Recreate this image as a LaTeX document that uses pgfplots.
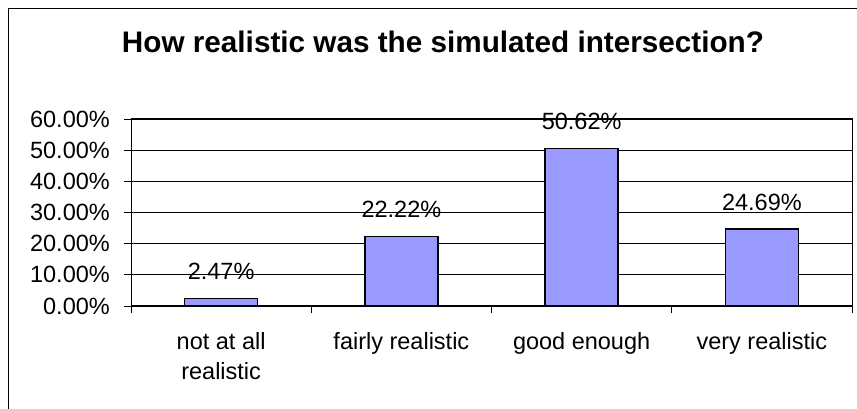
\documentclass[border=0pt]{standalone}
\usepackage{pgfplots}
\pgfplotsset{compat=1.18}
\usepackage{fontspec}
\setmainfont{Liberation Sans}
\definecolor{barblue}{HTML}{9999FF}
\begin{document}
\begin{tikzpicture}
\path[use as bounding box] (0pt,0pt) rectangle (857pt,409pt);
\draw[line width=1pt] (8.5pt,-5pt) -- (8.5pt,400.5pt) -- (870pt,400.5pt);
\node[anchor=base, inner sep=0pt, font=\fontsize{29.7}{36}\selectfont\bfseries] at (443pt,356pt) {How realistic was the simulated intersection?};
\begin{axis}[
  at={(131pt,103pt)}, anchor=south west,
  scale only axis, width=721pt, height=187pt,
  xmin=0.5, xmax=4.5, ymin=0, ymax=60,
  ybar, bar width=73pt, clip=false,
  xtick={1,2,3,4},
  xticklabels={{not at all\\realistic},{fairly realistic},{good enough},{very realistic}},
  minor xtick={0.5,1.5,2.5,3.5,4.5},
  ytick={0,10,...,60},
  /pgf/number format/assume math mode=true,
  yticklabel={\pgfmathprintnumber[fixed,fixed zerofill,precision=2]{\tick}\%},
  tick label style={font=\fontsize{23.5}{29.5}\selectfont},
  yticklabel style={anchor=east, inner sep=0pt, xshift=-14pt},
  xticklabel style={anchor=north, inner sep=0pt, align=center, yshift=-19.5pt},
  tick align=outside, major tick length=7pt, minor tick length=7pt,
  major x tick style={draw=none},
  xtick pos=bottom, ytick pos=left,
  ymajorgrids, major grid style={black, line width=0.8pt},
  axis line style={black, line width=1pt},
  tick style={black, line width=0.8pt},
  nodes near coords={\pgfmathprintnumber[fixed,fixed zerofill,precision=2]{\pgfplotspointmeta}\%},
  every node near coord/.append style={font=\fontsize{23.5}{29.5}\selectfont, anchor=base, inner sep=0pt, yshift=19pt},
]
\addplot[fill=barblue, draw=black, line width=1.3pt] coordinates {(1,2.47) (2,22.22) (3,50.62) (4,24.69)};
\end{axis}
\end{tikzpicture}
\end{document}
